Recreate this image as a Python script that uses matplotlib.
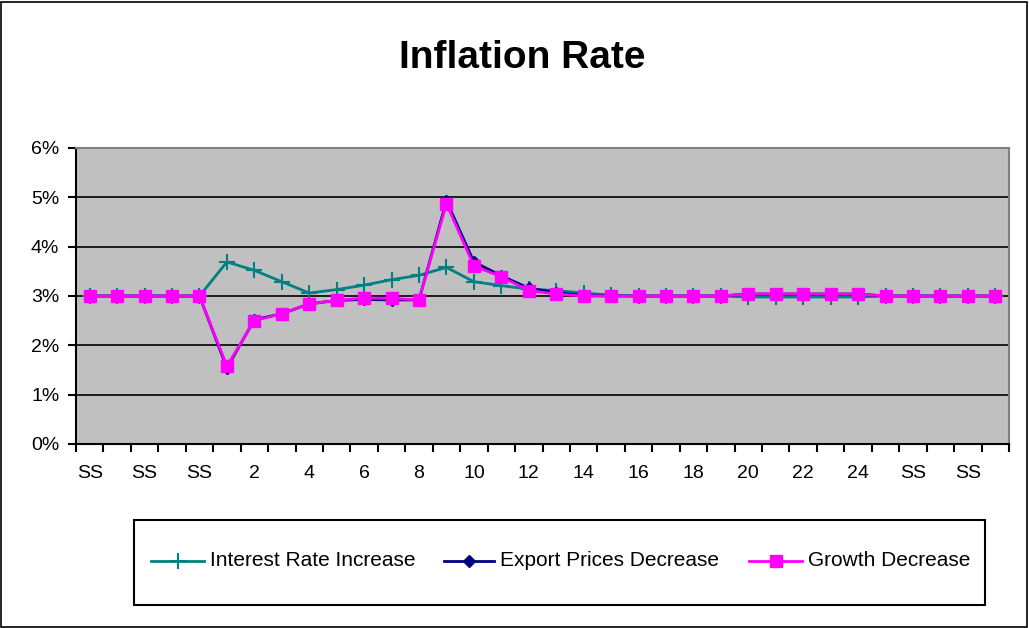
import matplotlib
matplotlib.use("Agg")
import matplotlib.pyplot as plt
from matplotlib.patches import Rectangle
from matplotlib.lines import Line2D

plt.rcParams['font.family'] = ['Liberation Sans', 'DejaVu Sans']

categories = ["SS"] * 5 + [str(i) for i in range(1, 26)] + ["SS"] * 4

interest_rate_increase = [3.00, 3.00, 3.00, 3.00, 3.00, 3.69, 3.52, 3.29, 3.06, 3.13,
                          3.22, 3.33, 3.42, 3.58, 3.29, 3.21, 3.14, 3.11, 3.06, 3.02,
                          3.00, 3.00, 3.00, 3.00, 2.98, 2.98, 2.98, 2.98, 2.98, 3.00,
                          3.00, 3.00, 3.00, 3.00]
export_prices_decrease = [3.00, 3.00, 3.00, 3.00, 3.00, 1.54, 2.52, 2.64, 2.84, 2.91,
                          2.93, 2.92, 2.92, 4.93, 3.69, 3.41, 3.16, 3.07, 3.01, 3.00,
                          3.00, 3.00, 3.00, 3.00, 3.04, 3.04, 3.04, 3.04, 3.04, 3.00,
                          3.00, 3.00, 3.00, 3.00]
growth_decrease = [3.00, 3.00, 3.00, 3.00, 3.00, 1.58, 2.50, 2.64, 2.84, 2.91,
                   2.96, 2.95, 2.92, 4.87, 3.61, 3.39, 3.11, 3.04, 3.00, 3.00,
                   3.00, 3.00, 3.00, 3.00, 3.04, 3.04, 3.04, 3.04, 3.04, 3.00,
                   3.00, 3.00, 3.00, 3.00]
y_ticks = [0, 1, 2, 3, 4, 5, 6]
y_tick_labels = ["0%", "1%", "2%", "3%", "4%", "5%", "6%"]
series_labels = ["Interest Rate Increase", "Export Prices Decrease", "Growth Decrease"]

W, H = 1029, 628
fig = plt.figure(figsize=(W / 100, H / 100), dpi=100)
fig.patch.set_facecolor("white")

ax = fig.add_axes([76 / W, 1 - 444 / H, (1009 - 76) / W, (444 - 148) / H])
ax.set_facecolor("#C0C0C0")

styles = [
    dict(color="#008080", lw=2, marker="+", markersize=11, markeredgewidth=1.5),
    dict(color="#000080", lw=2, marker="D", markersize=6,
         markerfacecolor="#000080", markeredgecolor="#000080"),
    dict(color="#FF00FF", lw=2, marker="s", markersize=9,
         markerfacecolor="#FF00FF", markeredgecolor="#FF00FF"),
]

x = list(range(len(categories)))
for z, (vals, st) in enumerate(zip([interest_rate_increase, export_prices_decrease,
                                    growth_decrease], styles)):
    ax.plot(x, vals, zorder=3 + z, **st)

ax.set_xlim(-0.5, len(categories) - 0.5)
ax.set_ylim(0, 6)
ax.set_yticks(y_ticks)
ax.set_yticklabels(y_tick_labels, fontsize=14)
ax.yaxis.grid(True, color="black", lw=1.2)
ax.set_axisbelow(True)

ax.set_xticks([i - 0.5 for i in range(len(categories) + 1)])
ax.set_xticklabels([])
lab_pos = [i for i in x if i % 2 == 0]
ax.set_xticks(lab_pos, minor=True)
ax.set_xticklabels([categories[i] for i in lab_pos], minor=True, fontsize=14)
ax.tick_params(axis="x", which="major", length=6, width=1.5, direction="out")
ax.tick_params(axis="x", which="minor", length=0, pad=15)
ax.tick_params(axis="y", length=6, width=1.5, direction="out", pad=6)

for s in ["top", "right"]:
    ax.spines[s].set_color("#808080")
    ax.spines[s].set_linewidth(1.5)
for s in ["left", "bottom"]:
    ax.spines[s].set_color("black")
    ax.spines[s].set_linewidth(1.5)

fig.text(522 / W, 1 - 58 / H, "Inflation Rate", ha="center", va="center",
         fontsize=28, fontweight="bold")

# legend box
fig.add_artist(Rectangle((134 / W, 1 - 605 / H), (985 - 134) / W, (605 - 520) / H,
                         transform=fig.transFigure, fill=False, edgecolor="black", lw=1.5))
leg_y = 1 - 561 / H
line_x = [(151, 204), (444, 494), (749, 802)]
for (x0, x1), st, lab in zip(line_x, styles, series_labels):
    fig.add_artist(Line2D([x0 / W, x1 / W], [leg_y, leg_y], transform=fig.transFigure,
                          color=st["color"], lw=2))
    mst = {k: v for k, v in st.items() if k not in ("lw",)}
    if mst["marker"] == "s":
        mst["markersize"] = 8
    fig.add_artist(Line2D([(x0 + x1) / 2 / W], [leg_y], transform=fig.transFigure,
                          linestyle="none", **mst))
    fig.text((x1 + 6) / W, leg_y, lab, ha="left", va="center", fontsize=15)

# outer border
fig.add_artist(Rectangle((0.001, 0.0015), 0.997, 0.996, transform=fig.transFigure,
                         fill=False, edgecolor="black", lw=1.2))

fig.savefig("out.png", dpi=100)
